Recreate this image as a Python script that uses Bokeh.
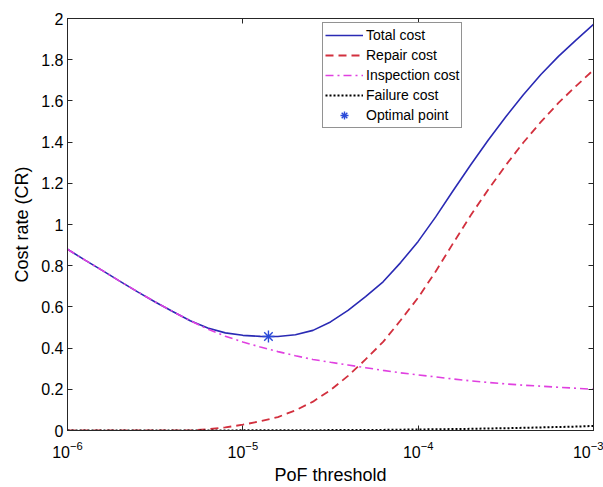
from bokeh.plotting import figure
from bokeh.models import (Range1d, LinearAxis, LogAxis, FixedTicker, Legend,
                          LegendItem, ColumnDataSource)
from bokeh.embed import file_html
from bokeh.resources import INLINE

# PoF threshold grid (log10 of the threshold)
log_pof = [-6.0, -5.9, -5.8, -5.7, -5.6, -5.5, -5.4, -5.3, -5.2, -5.1,
           -5.0, -4.9, -4.8, -4.7, -4.6, -4.5, -4.4, -4.3, -4.2, -4.1,
           -4.0, -3.9, -3.8, -3.7, -3.6, -3.5, -3.4, -3.3, -3.2, -3.1, -3.0]

# Cost-rate components along the grid
total_cost = [0.880, 0.827, 0.776, 0.724, 0.673, 0.624, 0.578, 0.533, 0.498, 0.474,
              0.462, 0.457, 0.456, 0.465, 0.486, 0.527, 0.583, 0.650, 0.722, 0.815,
              0.918, 1.037, 1.165, 1.290, 1.410, 1.523, 1.630, 1.728, 1.816, 1.895, 1.972]
repair_cost = [0.000, 0.000, 0.000, 0.000, 0.000, 0.000, 0.000, 0.000, 0.006, 0.015,
               0.028, 0.045, 0.065, 0.098, 0.140, 0.196, 0.265, 0.345, 0.430, 0.535,
               0.645, 0.772, 0.910, 1.045, 1.170, 1.288, 1.398, 1.498, 1.590, 1.672, 1.750]
inspection_cost = [0.880, 0.827, 0.776, 0.724, 0.673, 0.624, 0.578, 0.533, 0.492, 0.458,
                   0.430, 0.405, 0.383, 0.363, 0.345, 0.331, 0.318, 0.305, 0.292, 0.280,
                   0.270, 0.260, 0.250, 0.241, 0.233, 0.226, 0.220, 0.215, 0.210, 0.205, 0.200]
failure_cost = [0.000, 0.000, 0.000, 0.000, 0.000, 0.000, 0.000, 0.000, 0.000, 0.000,
                0.001, 0.001, 0.001, 0.001, 0.001, 0.002, 0.002, 0.003, 0.003, 0.004,
                0.005, 0.006, 0.007, 0.008, 0.010, 0.011, 0.013, 0.015, 0.017, 0.019, 0.022]

# Minimum of the total cost rate
optimal_pof = [1.4e-5]
optimal_cr = [0.456]

# Axis ticks
x_ticks = [1e-6, 1e-5, 1e-4, 1e-3]
y_ticks = [0, 0.2, 0.4, 0.6, 0.8, 1.0, 1.2, 1.4, 1.6, 1.8, 2.0]
y_tick_labels = ["0", "0.2", "0.4", "0.6", "0.8", "1", "1.2", "1.4", "1.6", "1.8", "2"]

FONT = "Liberation Sans"
AXIS_COLOR = "#262626"

src = ColumnDataSource(dict(
    pof=[10 ** e for e in log_pof],
    total=total_cost,
    repair=repair_cost,
    inspection=inspection_cost,
    failure=failure_cost,
))

p = figure(width=603, height=487, x_axis_type="log",
           x_range=Range1d(1e-6, 1e-3), y_range=Range1d(0, 2),
           output_backend="svg", toolbar_location=None,
           min_border_left=67, min_border_right=10,
           min_border_top=18, min_border_bottom=56)

p.xgrid.visible = False
p.ygrid.visible = False
p.outline_line_color = AXIS_COLOR
p.background_fill_color = "white"
p.border_fill_color = "white"

# Bottom and left axes
xa = p.xaxis[0]
xa.ticker = FixedTicker(ticks=x_ticks)
xa.axis_label = "PoF threshold"
ya = p.yaxis[0]
ya.ticker = FixedTicker(ticks=y_ticks)
ya.major_label_overrides = {v: s for v, s in zip(y_ticks, y_tick_labels)}
ya.axis_label = "Cost rate (CR)"

for ax in (xa, ya):
    ax.major_tick_in = 5
    ax.major_tick_out = 0
    ax.minor_tick_line_color = None
    ax.axis_line_color = AXIS_COLOR
    ax.major_tick_line_color = AXIS_COLOR
    ax.major_label_text_font = FONT
    ax.major_label_text_font_size = "16px"
    ax.major_label_text_color = "black"
    ax.axis_label_text_font = FONT
    ax.axis_label_text_font_size = "18px"
    ax.axis_label_text_font_style = "normal"
    ax.axis_label_text_color = "black"
xa.major_label_standoff = 10
xa.axis_label_standoff = 4
ya.major_label_standoff = 4
ya.axis_label_standoff = 6

# Mirrored ticks on the top and right sides of the box
top = LogAxis(ticker=FixedTicker(ticks=x_ticks))
right = LinearAxis(ticker=FixedTicker(ticks=y_ticks))
for ax in (top, right):
    ax.major_tick_in = 5
    ax.major_tick_out = 0
    ax.minor_tick_line_color = None
    ax.axis_line_color = AXIS_COLOR
    ax.major_tick_line_color = AXIS_COLOR
    ax.major_label_text_font_size = "1px"
    ax.major_label_text_color = None
    ax.major_label_standoff = 0
p.add_layout(top, "above")
p.add_layout(right, "right")

# Curves
r_total = p.line("pof", "total", source=src, line_color="#2a2ab4", line_width=1.6)
r_repair = p.line("pof", "repair", source=src, line_color="#d2303e",
                  line_width=1.8, line_dash="8 5")
r_insp = p.line("pof", "inspection", source=src, line_color="#e040e0",
                line_width=1.6, line_dash="8 4 2 4")
r_fail = p.line("pof", "failure", source=src, line_color="black",
                line_width=2, line_dash="2 2")
r_opt = p.scatter(optimal_pof, optimal_cr, marker="asterisk", size=12,
                  line_color="#2a4ad8", line_width=1.4)

legend = Legend(items=[
    LegendItem(label="Total cost", renderers=[r_total]),
    LegendItem(label="Repair cost", renderers=[r_repair]),
    LegendItem(label="Inspection cost", renderers=[r_insp]),
    LegendItem(label="Failure cost", renderers=[r_fail]),
    LegendItem(label="Optimal point", renderers=[r_opt]),
], location=(255, 302))
legend.border_line_color = AXIS_COLOR
legend.border_line_width = 1
legend.background_fill_alpha = 1
legend.label_text_font = FONT
legend.label_text_font_size = "14px"
legend.label_text_color = "black"
legend.glyph_width = 38
legend.glyph_height = 20
legend.label_height = 20
legend.spacing = 0
legend.padding = 2
legend.margin = 0
legend.label_standoff = 3
p.add_layout(legend)

open("out.html", "w").write(file_html(p, INLINE))
